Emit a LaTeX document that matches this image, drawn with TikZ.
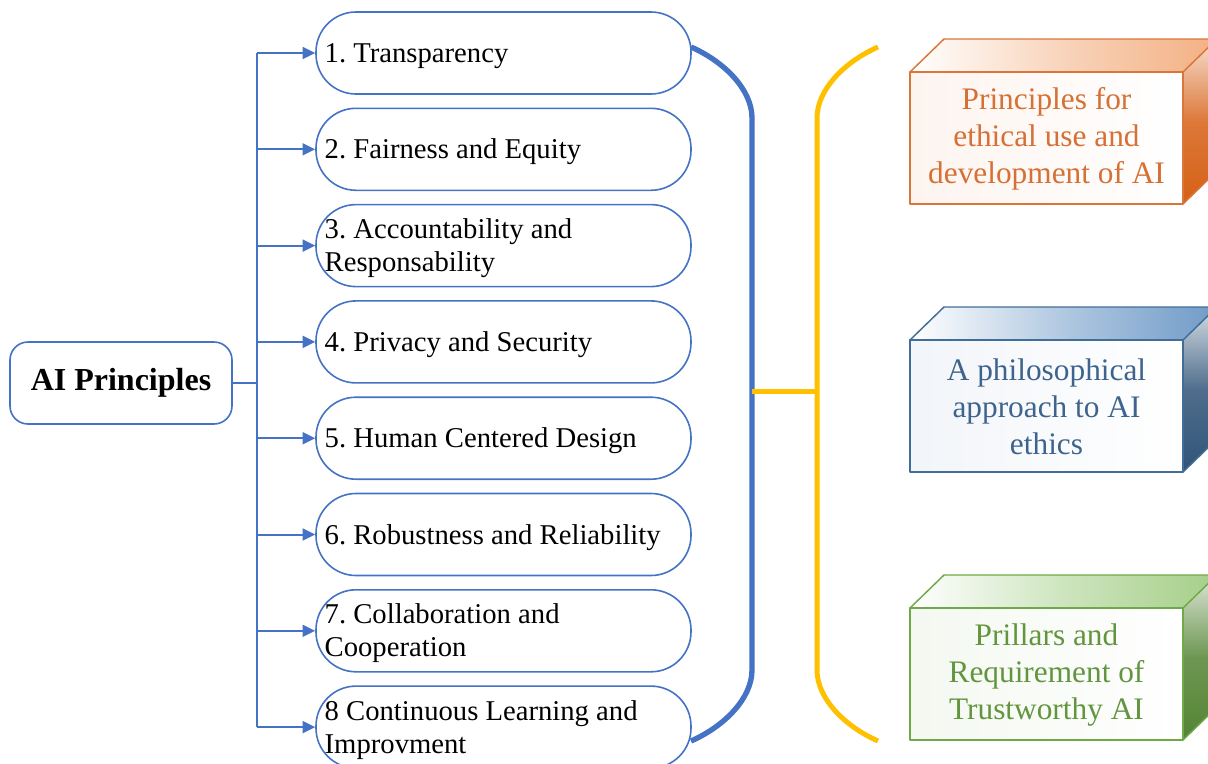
\documentclass[tikz,border=0pt]{standalone}
\usepackage{fontspec}
\setmainfont{Liberation Serif}
\usetikzlibrary{arrows.meta}
\frenchspacing

\definecolor{lineblue}{RGB}{68,114,196}
\definecolor{braceyellow}{RGB}{255,192,0}
% cube colours: edge, text, front tint, top face, side face
\definecolor{oraedge}{RGB}{218,118,58}
\definecolor{oratext}{RGB}{214,112,52}
\definecolor{orafront}{RGB}{253,244,239}
\definecolor{oratop}{RGB}{243,176,130}
\definecolor{oraside}{RGB}{214,96,22}
\definecolor{bluedge}{RGB}{65,110,150}
\definecolor{blutext}{RGB}{62,100,142}
\definecolor{blufront}{RGB}{242,245,249}
\definecolor{blutop}{RGB}{112,155,200}
\definecolor{bluside}{RGB}{48,84,120}
\definecolor{greedge}{RGB}{112,170,72}
\definecolor{gretext}{RGB}{98,150,62}
\definecolor{grefront}{RGB}{244,248,241}
\definecolor{gretop}{RGB}{165,207,137}
\definecolor{greside}{RGB}{84,132,52}

\tikzset{every picture/.style={line width=0.75pt}}
\tikzset{
  rootbox/.style={draw=lineblue, line width=1.2pt, rounded corners=13.5pt, minimum width=166.5pt, minimum height=61.5pt, font=\fontsize{24}{28}\selectfont\bfseries},
  itembox/.style={draw=lineblue, line width=1.2pt, rounded corners=30pt, minimum width=281.25pt, minimum height=61.5pt, fill=white},
  itemtext/.style={anchor=west, inner sep=0pt, align=left, font=\fontsize{21.5}{24.75}\selectfont},
  branch/.style={draw=lineblue, line width=1.5pt, -{Triangle[length=9.5pt,width=9pt]}},
  cubetext/.style={align=center, inner sep=0pt, font=\fontsize{23.5}{27.75}\selectfont}
}

\begin{document}
\begin{tikzpicture}[x=0.75pt,y=0.75pt,yscale=-1,xscale=1]
\useasboundingbox (0,0) rectangle (1208,764);

% Root node and trunk
\node[rootbox] (root) at (121,383) {AI Principles};
\coordinate (trunk) at (257,383);
\coordinate (trunktop) at (257,53);
\coordinate (trunkbot) at (257,727);
\draw[lineblue, line width=1.5pt] (root.east) -- (trunk);
\draw[lineblue, line width=1.5pt] (trunktop) -- (trunkbot);

% Principle list
\foreach \n/\y/\txt in {1/53/{1. Transparency},
                        2/149.3/{2. Fairness and Equity},
                        3/245.6/{3. Accountability and\\Responsability},
                        4/341.9/{4. Privacy and Security},
                        5/438.2/{5. Human Centered Design},
                        6/534.5/{6. Robustness and Reliability},
                        7/630.8/{7. Collaboration and\\Cooperation},
                        8/727.1/{8 Continuous Learning and\\Improvment}} {
  \node[itembox] (p\n) at (503.5,\y) {};
  \node[itemtext] (t\n) at ([xshift=6.75pt,yshift=2pt]p\n.west) {\txt};
  \coordinate (b\n) at (257,\y);
  \draw[branch] (b\n) -- (p\n.west);
}

%Shape: Blue bracket
\draw[lineblue, line width=4pt] (691,47) .. controls (725,62) and (752,90) .. (752,118) -- (752,670) .. controls (752,698) and (725,726) .. (691,741);
%Shape: Yellow bracket
\draw[braceyellow, line width=3.75pt] (878,47) .. controls (844,62) and (817,90) .. (817,118) -- (817,670) .. controls (817,698) and (844,726) .. (878,741);
\coordinate (bl) at (752,391);
\coordinate (br) at (817,391);
\draw[braceyellow, line width=3.75pt] (bl) -- (br);

% Cubes
\foreach \c/\y/\txt in {ora/72/{Principles for\\ethical use and\\development of AI},
                        blu/340/{A philosophical\\approach to AI\\ethics},
                        gre/608/{Prillars and\\Requirement of\\Trustworthy AI}} {
  \shade[left color=\c front, right color=white] (910,\y) rectangle (1183,{\y+132});
  \shade[left color=white, right color=\c top, middle color=\c top!55] (910,\y) -- (944,{\y-33}) -- (1217,{\y-33}) -- (1183,\y) -- cycle;
  \shade[top color=\c side!20, bottom color=\c side, middle color=\c side!85] (1183,\y) -- (1217,{\y-33}) -- (1217,{\y+99}) -- (1183,{\y+132}) -- cycle;
  \draw[\c edge, line width=1.1pt, line join=round] (910,\y) rectangle (1183,{\y+132});
  \draw[\c edge, line width=1.1pt, line join=round] (910,\y) -- (944,{\y-33}) -- (1217,{\y-33}) -- (1183,\y);
  \draw[\c edge, line width=1.1pt, line join=round] (1217,{\y-33}) -- (1217,{\y+99}) -- (1183,{\y+132});
  \node[cubetext, text=\c text] (c\c) at (1046.5,{\y+67}) {\txt};
}

\end{tikzpicture}
\end{document}
